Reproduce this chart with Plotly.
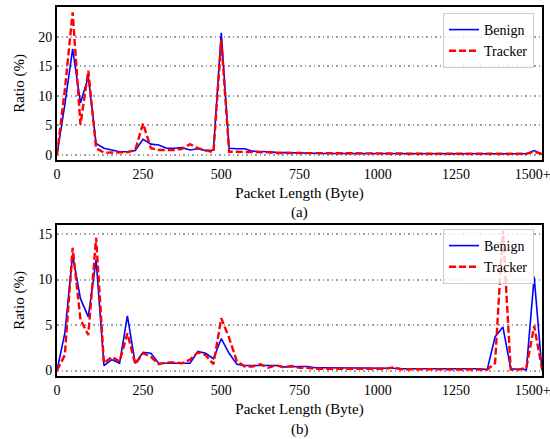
import plotly.graph_objects as go
from plotly.subplots import make_subplots

# bin index along the packet-length axis (0 .. 62)
bins = list(range(63))
tick_pos = [0, 11, 21, 31, 41, 51, 60.8]
tick_labels = ["0", "250", "500", "750", "1000", "1250", "1500+"]

benign_a = [0, 8.5, 18.0, 8.8, 13.2, 1.9, 1.1, 0.8, 0.5, 0.5,
            0.7, 2.6, 1.8, 1.65, 1.1, 1.1, 1.2, 0.8, 1.0, 0.7,
            0.8, 20.7, 1.1, 1.0, 1.0, 0.6, 0.6, 0.5, 0.4, 0.35,
            0.3, 0.35, 0.3, 0.25, 0.2, 0.2, 0.2, 0.2, 0.2, 0.2,
            0.2, 0.2, 0.2, 0.2, 0.2, 0.2, 0.2, 0.15, 0.15, 0.15,
            0.15, 0.15, 0.15, 0.15, 0.15, 0.15, 0.15, 0.15, 0.15, 0.15,
            0.15, 0.7, 0.1]
tracker_a = [0, 11.0, 24.2, 5.1, 14.3, 1.1, 0.35, 0.35, 0.3, 0.4,
             0.8, 5.3, 1.1, 0.8, 0.8, 0.8, 1.0, 1.8, 1.1, 0.7,
             0.4, 19.5, 0.5, 0.5, 0.5, 0.5, 0.4, 0.4, 0.3, 0.3,
             0.3, 0.3, 0.25, 0.25, 0.2, 0.2, 0.2, 0.2, 0.2, 0.2,
             0.2, 0.2, 0.2, 0.2, 0.2, 0.15, 0.15, 0.15, 0.15, 0.15,
             0.15, 0.15, 0.15, 0.15, 0.15, 0.15, 0.15, 0.15, 0.15, 0.15,
             0.15, 0.5, 0.1]

benign_b = [0, 4.1, 12.7, 7.9, 5.9, 12.2, 0.55, 1.2, 0.8, 6.0,
            0.8, 2.0, 1.9, 0.8, 0.8, 0.8, 0.8, 0.8, 2.1, 1.9,
            1.3, 3.5, 1.9, 0.7, 0.55, 0.55, 0.6, 0.55, 0.55, 0.4,
            0.45, 0.45, 0.45, 0.3, 0.3, 0.3, 0.25, 0.25, 0.25, 0.25,
            0.25, 0.25, 0.25, 0.25, 0.2, 0.2, 0.2, 0.2, 0.2, 0.2,
            0.2, 0.2, 0.2, 0.2, 0.2, 0.1, 3.7, 4.8, 0.2, 0.15,
            0.1, 10.3, 0]
tracker_b = [0, 1.7, 13.5, 5.6, 3.9, 14.6, 0.8, 1.5, 1.0, 4.1,
             0.7, 1.9, 1.5, 0.7, 0.9, 0.9, 0.8, 1.2, 2.0, 1.7,
             0.7, 5.75, 3.6, 1.0, 0.45, 0.45, 0.7, 0.3, 0.6, 0.35,
             0.5, 0.3, 0.3, 0.2, 0.2, 0.2, 0.2, 0.2, 0.2, 0.2,
             0.2, 0.2, 0.2, 0.35, 0.15, 0.15, 0.15, 0.15, 0.15, 0.15,
             0.15, 0.15, 0.15, 0.15, 0.15, 0.1, 0.8, 15.4, 0.1, 0.1,
             0.3, 4.9, 0.2]

FONT = "Liberation Serif, Times New Roman, DejaVu Serif, serif"
BLUE = "#0000ff"
RED = "#ff0000"

fig = make_subplots(rows=2, cols=1)

fig.add_trace(go.Scatter(x=bins, y=benign_a, mode="lines", name="Benign",
                         line=dict(color=BLUE, width=1.6), legend="legend"), row=1, col=1)
fig.add_trace(go.Scatter(x=bins, y=tracker_a, mode="lines", name="Tracker",
                         line=dict(color=RED, width=2.4, dash="7px,3px"), legend="legend"), row=1, col=1)
fig.add_trace(go.Scatter(x=bins, y=benign_b, mode="lines", name="Benign",
                         line=dict(color=BLUE, width=1.6), legend="legend2"), row=2, col=1)
fig.add_trace(go.Scatter(x=bins, y=tracker_b, mode="lines", name="Tracker",
                         line=dict(color=RED, width=2.4, dash="7px,3px"), legend="legend2"), row=2, col=1)

xcommon = dict(range=[0, 62], tickmode="array", tickvals=tick_pos, ticktext=tick_labels,
               showgrid=False, zeroline=False, showline=True, mirror=True,
               linecolor="black", linewidth=2, ticks="", automargin=False,
               ticklabeloverflow="allow",
               tickfont=dict(family=FONT, size=14, color="black"),
               title=dict(text="Packet Length (Byte)", standoff=7,
                          font=dict(family=FONT, size=15, color="black")))
ycommon = dict(showgrid=True, gridcolor="#a0a0a0", griddash="1.5px,3px", gridwidth=1.5,
               zeroline=False, showline=True, mirror=True, automargin=False,
               linecolor="black", linewidth=2, ticks="",
               tickfont=dict(family=FONT, size=14, color="black"),
               title=dict(text="Ratio (%)", standoff=10,
                          font=dict(family=FONT, size=15, color="black")))

top_lo = (376 - 160) / 369
bot_hi = (376 - 225) / 369

fig.update_xaxes(**xcommon)
fig.update_yaxes(**ycommon)
fig.update_yaxes(range=[-0.9, 25.1], tickvals=[0, 5, 10, 15, 20], domain=[top_lo, 1.0], row=1, col=1)
fig.update_yaxes(range=[-0.6, 16.0], tickvals=[0, 5, 10, 15], domain=[0.0, bot_hi], row=2, col=1)

legend_style = dict(xanchor="right", yanchor="top", bgcolor="rgba(255,255,255,0.8)",
                    bordercolor="#cccccc", borderwidth=1, itemwidth=30,
                    entrywidth=95, entrywidthmode="pixels",
                    font=dict(family=FONT, size=14, color="black"), tracegroupgap=0)

fig.update_layout(
    width=550, height=439,
    margin=dict(l=57, r=8, t=7, b=63),
    paper_bgcolor="white", plot_bgcolor="white",
    font=dict(family=FONT, size=14, color="black"),
    legend=dict(x=(534 - 57) / 485, y=(376 - 13) / 369, **legend_style),
    legend2=dict(x=(534 - 57) / 485, y=(376 - 229) / 369, **legend_style),
    annotations=[
        dict(text="(a)", xref="paper", yref="paper", x=0.5, y=(376 - 213) / 369,
             showarrow=False, yanchor="middle", font=dict(family=FONT, size=15, color="black")),
        dict(text="(b)", xref="paper", yref="paper", x=0.5, y=(376 - 429) / 369,
             showarrow=False, yanchor="middle", font=dict(family=FONT, size=15, color="black")),
    ],
)

fig.write_html("out.html", config={"displayModeBar": False},
               post_script="document.body.style.margin='0';document.body.style.overflow='hidden';")
